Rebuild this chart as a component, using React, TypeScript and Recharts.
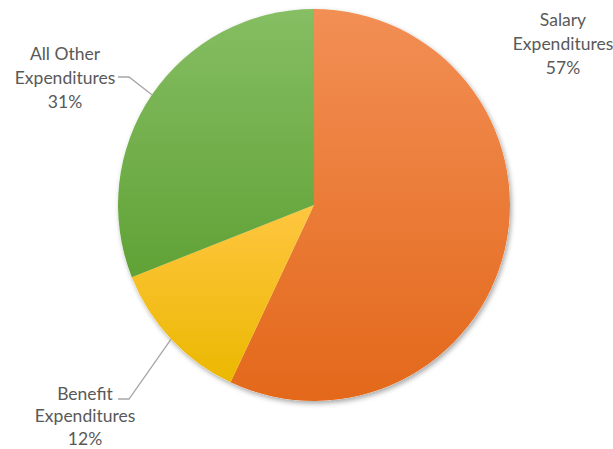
import React from "react";
import { PieChart, Pie, Cell } from "recharts";

const categories = ["Salary Expenditures", "Benefit Expenditures", "All Other Expenditures"];
const labelLines = [["Salary", "Expenditures"], ["Benefit", "Expenditures"], ["All Other", "Expenditures"]];
const values = [57, 12, 31];

const data = categories.map((name, i) => ({ name, value: values[i] }));

const gradients = [
  { id: "gSalary", top: "#F28F55", bottom: "#E3681A" },
  { id: "gBenefit", top: "#FFC641", bottom: "#EBB800" },
  { id: "gOther", top: "#86BE63", bottom: "#60A236" },
];

// label layout: text center x, first line center y, line gap, and optional leader elbow
const labelLayout = [
  { x: 563, y: 19, gap: 24, elbow: null as null | [number, number], lineEnd: null as null | number },
  { x: 85, y: 393, gap: 22.5, elbow: [129, 399], lineEnd: 118 },
  { x: 65, y: 53, gap: 24, elbow: [129, 77], lineEnd: 118 },
];

const RADIAN = Math.PI / 180;

const renderLabel = (props: any) => {
  const { cx, cy, midAngle, outerRadius, index, percent } = props;
  const lay = labelLayout[index];
  const ex = cx + outerRadius * Math.cos(-midAngle * RADIAN);
  const ey = cy + outerRadius * Math.sin(-midAngle * RADIAN);
  const lines = [...labelLines[index], `${Math.round(percent * 100)}%`];
  return (
    <g key={`lbl-${index}`}>
      {lay.elbow && (
        <polyline
          points={`${ex},${ey} ${lay.elbow[0]},${lay.elbow[1]} ${lay.lineEnd},${lay.elbow[1]}`}
          fill="none"
          stroke="#A6A6A6"
          strokeWidth={1.3}
        />
      )}
      {lines.map((t, k) => (
        <text
          key={k}
          x={lay.x}
          y={lay.y + k * lay.gap}
          textAnchor="middle"
          dominantBaseline="central"
          fill="#595959"
          fontSize={17.5}
          fontFamily="Lato, 'Open Sans', sans-serif"
        >
          {t}
        </text>
      ))}
    </g>
  );
};

export default function App() {
  return (
    <div style={{ position: "absolute", left: 0, top: 0, width: 613, height: 449, background: "#fff" }}>
      <PieChart width={613} height={449} margin={{ top: 0, right: 0, bottom: 0, left: 0 }}>
        <defs>
          {gradients.map((g) => (
            <linearGradient key={g.id} id={g.id} x1="0" y1="0" x2="0" y2="1">
              <stop offset="0%" stopColor={g.top} />
              <stop offset="100%" stopColor={g.bottom} />
            </linearGradient>
          ))}
          <filter id="shadow" x="-10%" y="-10%" width="120%" height="120%">
            <feDropShadow dx="1.5" dy="2.5" stdDeviation="2.5" floodColor="#000" floodOpacity="0.35" />
          </filter>
        </defs>
        <Pie
          data={data}
          dataKey="value"
          cx={314}
          cy={205}
          outerRadius={196}
          startAngle={90}
          endAngle={-270}
          stroke="none"
          isAnimationActive={false}
          filter="url(#shadow)"
          fill="#fff"
          labelLine={false}
        >
          {data.map((d, i) => (
            <Cell key={`s-${i}`} fill="#fff" stroke="none" />
          ))}
        </Pie>
        <Pie
          data={data}
          dataKey="value"
          cx={314}
          cy={205}
          outerRadius={196}
          startAngle={90}
          endAngle={-270}
          stroke="none"
          isAnimationActive={false}
          label={renderLabel}
          labelLine={false}
        >
          {data.map((d, i) => (
            <Cell key={`c-${i}`} fill={`url(#${gradients[i].id})`} stroke="none" />
          ))}
        </Pie>
      </PieChart>
    </div>
  );
}
